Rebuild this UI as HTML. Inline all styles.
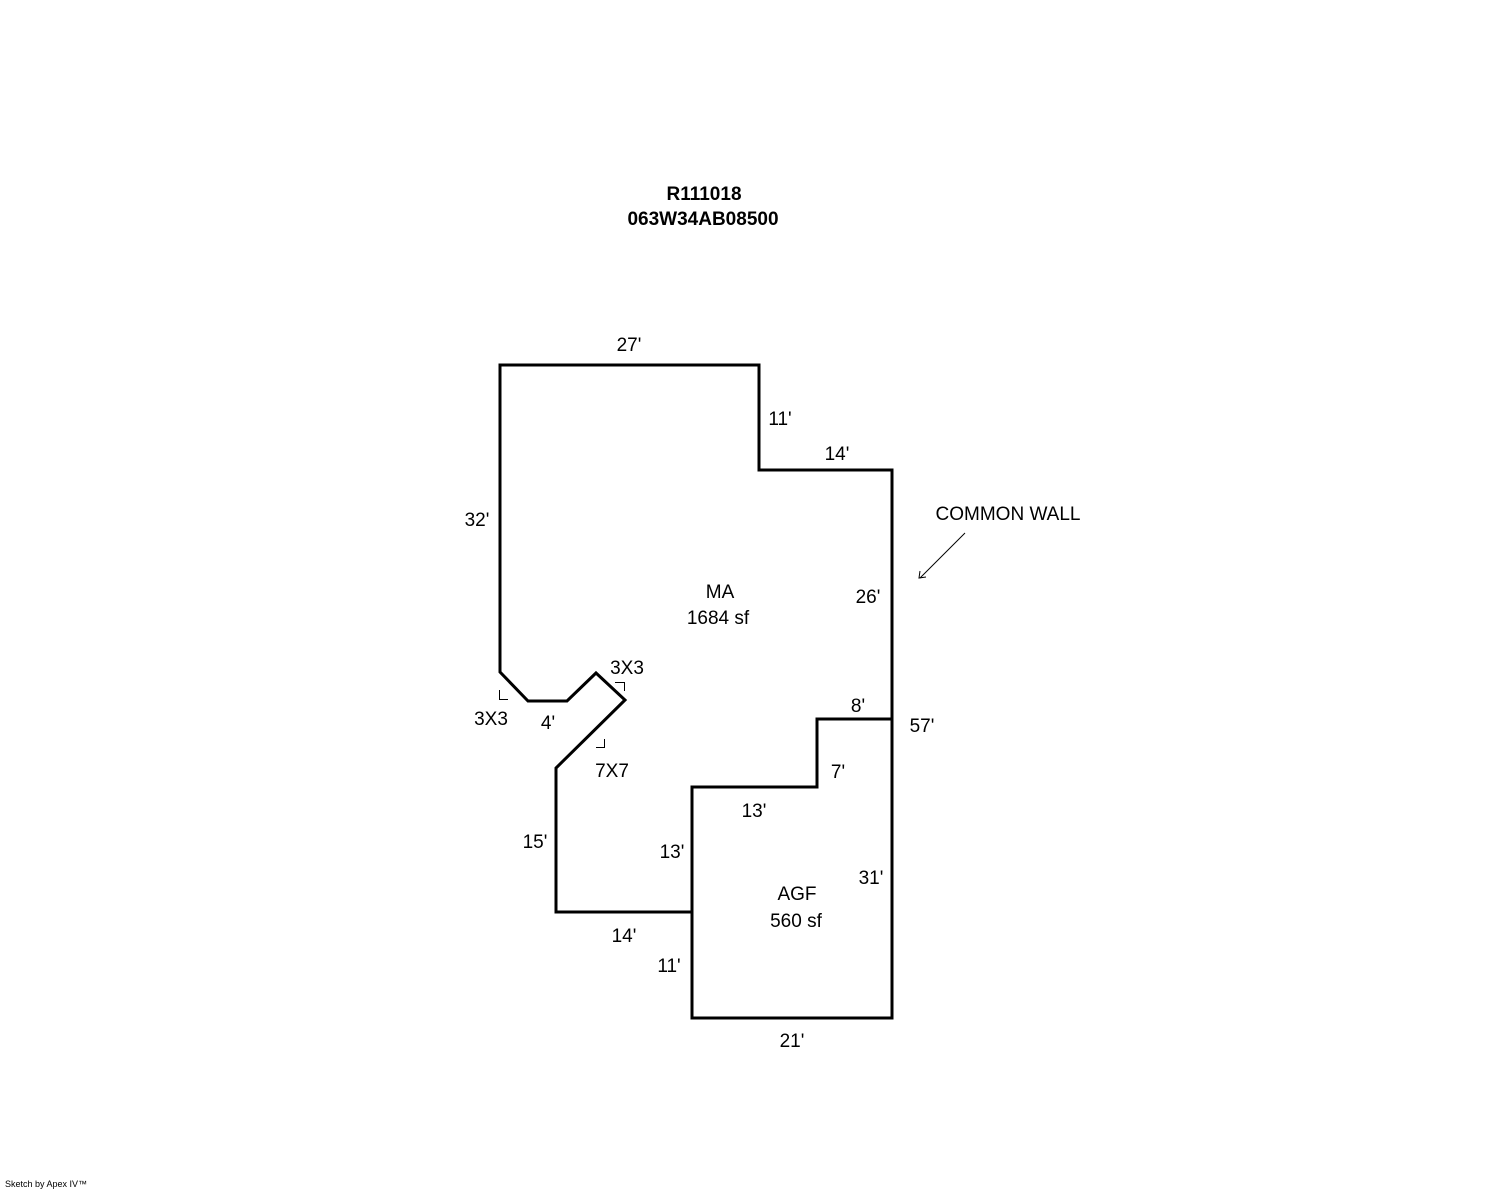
<!DOCTYPE html>
<html><head><style>
html,body{margin:0;padding:0;background:#fff;}
svg{display:block}
text{font-family:"Liberation Sans",Arial,sans-serif;font-size:19px;fill:#000}
</style></head><body>
<svg width="1488" height="1190" viewBox="0 0 1488 1190" xmlns="http://www.w3.org/2000/svg">
<g fill="none" stroke="#000" stroke-width="3" stroke-linejoin="miter">
<polyline points="692,912 556,912 556,768 625,700 596,673 567,701 528,701 500,672 500,365 759,365 759,470 892,470 892,1018 692,1018 692,787 817,787 817,719 892,719"/>
</g>
<g fill="none" stroke="#000" stroke-width="1">
<polyline points="499.5,690 499.5,699.5 508,699.5"/>
<polyline points="615,682.5 624.5,682.5 624.5,691"/>
<polyline points="596,747.5 604.5,747.5 604.5,739"/>
<line x1="965" y1="533" x2="920" y2="578"/>
<polyline points="920,571 919,578 926,577"/>
</g>
<text x="704" y="200" text-anchor="middle" style="font-weight:bold">R111018</text>
<text x="703" y="225" text-anchor="middle" style="font-weight:bold">063W34AB08500</text>
<text x="629" y="351" text-anchor="middle">27'</text>
<text x="780" y="425" text-anchor="middle">11'</text>
<text x="837" y="460" text-anchor="middle">14'</text>
<text x="477" y="526" text-anchor="middle">32'</text>
<text x="1008" y="520" text-anchor="middle">COMMON WALL</text>
<text x="720" y="598" text-anchor="middle">MA</text>
<text x="718" y="624" text-anchor="middle">1684 sf</text>
<text x="868" y="603" text-anchor="middle">26'</text>
<text x="627" y="674" text-anchor="middle">3X3</text>
<text x="491" y="725" text-anchor="middle">3X3</text>
<text x="548" y="729" text-anchor="middle">4'</text>
<text x="858" y="712" text-anchor="middle">8'</text>
<text x="922" y="732" text-anchor="middle">57'</text>
<text x="612" y="777" text-anchor="middle">7X7</text>
<text x="838" y="778" text-anchor="middle">7'</text>
<text x="754" y="817" text-anchor="middle">13'</text>
<text x="535" y="848" text-anchor="middle">15'</text>
<text x="672" y="858" text-anchor="middle">13'</text>
<text x="871" y="884" text-anchor="middle">31'</text>
<text x="797" y="900" text-anchor="middle">AGF</text>
<text x="796" y="927" text-anchor="middle">560 sf</text>
<text x="624" y="942" text-anchor="middle">14'</text>
<text x="669" y="972" text-anchor="middle">11'</text>
<text x="792" y="1047" text-anchor="middle">21'</text>
<text x="5" y="1187" style="font-size:9px">Sketch by Apex IV™</text>
</svg>
</body></html>
